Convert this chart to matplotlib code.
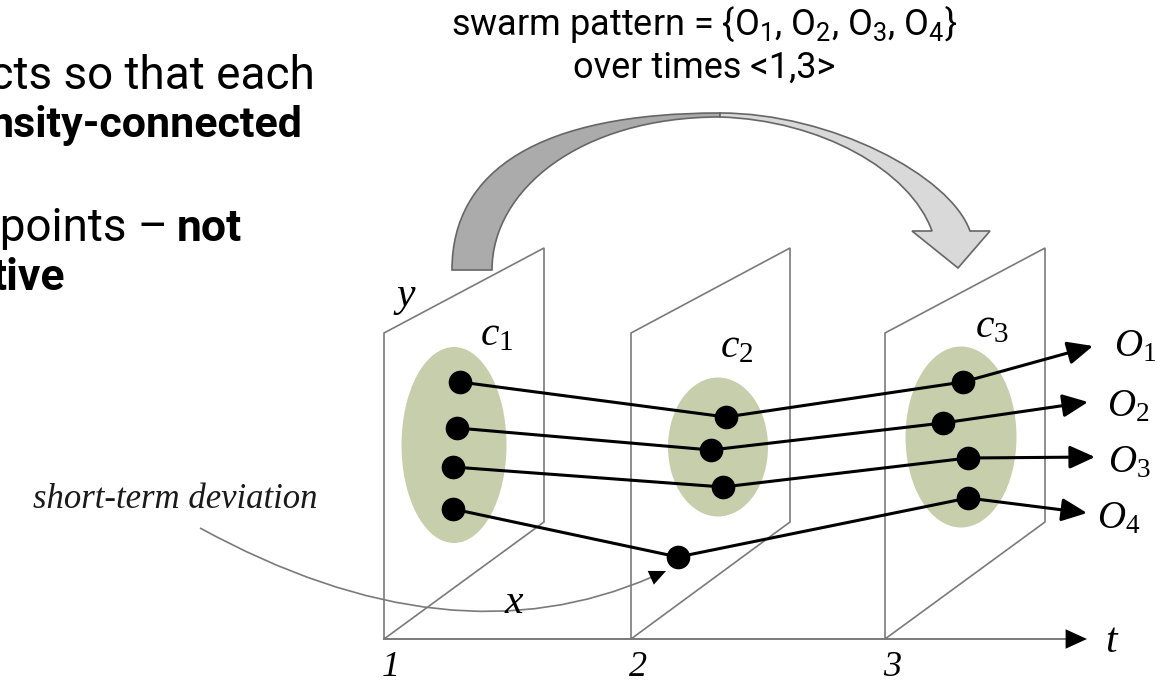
import matplotlib.pyplot as plt
from matplotlib.patches import Ellipse, PathPatch, FancyArrowPatch
from matplotlib.path import Path

plt.rcParams['font.family'] = ['Roboto', 'DejaVu Sans']
plt.rcParams['mathtext.fontset'] = 'custom'
plt.rcParams['mathtext.rm'] = 'Liberation Serif'
plt.rcParams['mathtext.it'] = 'Liberation Serif:italic'

# time slices (planes), pixel-like coords, y grows downward
time_labels = ['1', '2', '3']
plane_left = [384, 631, 885]
plane_right = [544, 790, 1045]
plane_top_left = 333
plane_top_right = 248
plane_right_bottom = 522
axis_y = 639
axis_end = 1087

# clusters per time
cluster_names = ['1', '2', '3']
cluster_cx = [454, 718, 961]
cluster_cy = [445, 447, 437]
cluster_w = [105, 100, 111]
cluster_h = [196, 139, 181]
cluster_label_x = [480, 720, 975]
cluster_label_y = [334, 346, 326]

# objects: one row per object, one column per time
obj_x = [[460, 726, 963], [457, 711, 943], [453, 723, 968], [453, 678, 968]]
obj_y = [[382, 417, 382], [428, 450, 423], [467, 487, 458], [509, 557, 498]]
obj_end_x = [1093, 1088, 1095, 1087]
obj_end_y = [346, 402, 457, 513]
obj_names = ['1', '2', '3', '4']
obj_label_x = [1114, 1107, 1108, 1097]
obj_label_y = [346, 406, 462, 518]

# big grey arrow (cluster kept from time 1 to time 3)
tail_l, tail_r, tail_y = 452, 492, 270
apex_x, apex_top, apex_bot = 720, 113, 117
head_l, shaft_in, shaft_out, head_r, head_y = 912, 932, 970, 990, 231
head_tip = (958, 268)

fig = plt.figure(figsize=(11.57, 6.81), dpi=100)
ax = fig.add_axes([0, 0, 1, 1])
ax.set_xlim(0, 1157)
ax.set_ylim(681, 0)
ax.axis('off')

# left text (cut off in the slide)
ax.text(315, 89, 'ects so that each', fontsize=33, ha='right', va='baseline')
ax.text(303, 137, 'nsity-connected', fontsize=31, fontweight='bold', ha='right', va='baseline')
ax.text(168, 241, 'e points \u2013', fontsize=33, ha='right', va='baseline')
ax.text(242, 241, 'not', fontsize=32, fontweight='bold', ha='right', va='baseline')
ax.text(65, 290, 'tive', fontsize=32, fontweight='bold', ha='right', va='baseline')

# title text
ax.text(704, 35, r'swarm pattern = {$\mathregular{O_1}$, $\mathregular{O_2}$, $\mathregular{O_3}$, $\mathregular{O_4}$}',
        fontsize=26, ha='center', va='baseline')
ax.text(704, 78, 'over times <1,3>', fontsize=26, ha='center', va='baseline')

# planes
pc = '#7a7a7a'
for L, R in zip(plane_left, plane_right):
    ax.plot([L, L, R, R, L], [axis_y, plane_top_left, plane_top_right, plane_right_bottom, axis_y],
            color=pc, lw=1.2, zorder=1, solid_joinstyle='miter')

# t axis
ax.plot([plane_left[0], axis_end - 15], [axis_y, axis_y], color=pc, lw=1.4, zorder=1)
ax.add_patch(FancyArrowPatch((axis_end - 25, axis_y), (axis_end, axis_y),
                             arrowstyle='-|>,head_length=1.1,head_width=0.5', mutation_scale=14,
                             color='black', lw=0, shrinkA=0, shrinkB=0, zorder=3))
for lab, L in zip(time_labels, plane_left):
    ax.text(L + 7, 667, lab, fontsize=26, fontstyle='italic', family='Liberation Serif',
            ha='center', va='center')
ax.text(1111, 642, 't', fontsize=30, fontstyle='italic', family='Liberation Serif', ha='center', va='center')
ax.text(406, 296, 'y', fontsize=30, fontstyle='italic', family='Liberation Serif', ha='center', va='center')
ax.text(514, 603, 'x', fontsize=30, fontstyle='italic', family='Liberation Serif', ha='center', va='center')

# clusters
for cx, cy, w, h in zip(cluster_cx, cluster_cy, cluster_w, cluster_h):
    ax.add_patch(Ellipse((cx, cy), w, h, facecolor='#c7ceab', edgecolor='none', zorder=2))
for name, lx, ly in zip(cluster_names, cluster_label_x, cluster_label_y):
    ax.text(lx, ly, r'$\mathit{c}_{\mathit{%s}}$' % name, fontsize=30, ha='left', va='center')

# object trajectories
for xs, ys, ex, ey in zip(obj_x, obj_y, obj_end_x, obj_end_y):
    ax.plot(xs, ys, color='black', lw=2.2, zorder=3)
    ax.add_patch(FancyArrowPatch((xs[-1], ys[-1]), (ex, ey),
                                 arrowstyle='-|>,head_length=1.1,head_width=0.5', mutation_scale=14,
                                 color='black', lw=2.2, shrinkA=0, shrinkB=0, zorder=3))
    ax.scatter(xs, ys, s=290, color='black', zorder=4, linewidths=0)
for name, lx, ly in zip(obj_names, obj_label_x, obj_label_y):
    ax.text(lx, ly, r'$\mathit{O}_{\mathit{%s}}$' % name, fontsize=28, ha='left', va='center')

# short-term deviation note
ax.text(33, 508, 'short-term deviation', fontsize=25, fontstyle='italic', family='Liberation Serif',
        ha='left', va='baseline', color='#1a1a1a')
dev_path = Path([(200, 528), (450, 665), (652, 577)], [Path.MOVETO, Path.CURVE3, Path.CURVE3])
ax.add_patch(PathPatch(dev_path, facecolor='none', edgecolor='#7a7a7a', lw=1.2, zorder=2))
ax.add_patch(FancyArrowPatch((648, 579), (666, 571), arrowstyle='-|>,head_length=1.0,head_width=0.45',
                             mutation_scale=12, color='black', lw=0, shrinkA=0, shrinkB=0, zorder=3))

# big curved grey arrow, two shades
left_part = Path([(tail_l, tail_y), (tail_l, 170), (540, apex_top), (apex_x, apex_top),
                  (apex_x, apex_bot), (580, apex_bot), (tail_r, 190), (tail_r, tail_y), (tail_l, tail_y)],
                 [Path.MOVETO, Path.CURVE4, Path.CURVE4, Path.CURVE4, Path.LINETO,
                  Path.CURVE4, Path.CURVE4, Path.CURVE4, Path.CLOSEPOLY])
right_part = Path([(apex_x, apex_top), (830, apex_top), (950, 175), (shaft_out, head_y),
                   (head_r, head_y), head_tip, (head_l, head_y), (shaft_in, head_y),
                   (910, 170), (820, 120), (apex_x, apex_bot), (apex_x, apex_top)],
                  [Path.MOVETO, Path.CURVE4, Path.CURVE4, Path.CURVE4, Path.LINETO, Path.LINETO,
                   Path.LINETO, Path.LINETO, Path.CURVE4, Path.CURVE4, Path.CURVE4, Path.CLOSEPOLY])
ax.add_patch(PathPatch(left_part, facecolor='#ababab', edgecolor='#666666', lw=1.2, zorder=2))
ax.add_patch(PathPatch(right_part, facecolor='#d9d9d9', edgecolor='#666666', lw=1.2, zorder=2))

fig.savefig('out.png', dpi=100)
